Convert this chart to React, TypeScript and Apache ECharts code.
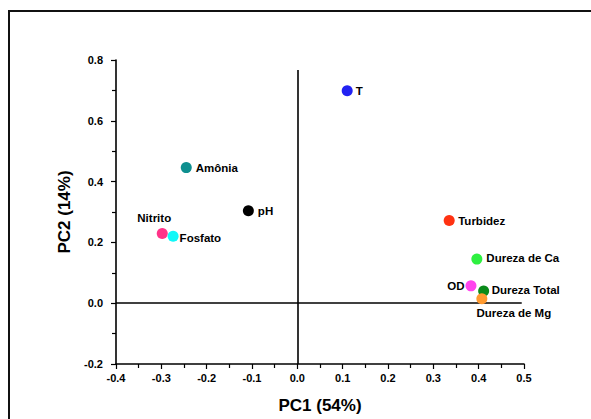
import React, { useEffect, useRef } from "react";
import * as echarts from "echarts";

const variables = ["T", "Amônia", "pH", "Nitrito", "Fosfato", "Turbidez", "Dureza de Ca", "OD", "Dureza Total", "Dureza de Mg"];
const pc1 = [0.11, -0.245, -0.108, -0.298, -0.274, 0.335, 0.396, 0.383, 0.411, 0.407];
const pc2 = [0.699, 0.446, 0.304, 0.229, 0.22, 0.272, 0.145, 0.057, 0.04, 0.015];
const xTicks = [-0.4, 0.5];
const yTicks = [-0.2, 0.8];
const xAxisName = "PC1 (54%)";
const yAxisName = "PC2 (14%)";

const palette: Record<string, string> = {
  T: "#2222F2",
  "Amônia": "#0E8F8F",
  pH: "#000000",
  Nitrito: "#FF3388",
  Fosfato: "#10F8F8",
  Turbidez: "#FF3212",
  "Dureza de Ca": "#2EF040",
  OD: "#FF44EE",
  "Dureza Total": "#0A8A1A",
  "Dureza de Mg": "#FF9A30",
};

const labelStyle: Record<string, any> = {
  T: { position: "right", distance: 3 },
  "Amônia": { position: "right", distance: 4 },
  pH: { position: "right", distance: 4 },
  Nitrito: { position: "top", distance: 4, offset: [-8, 0] },
  Fosfato: { position: "right", distance: 1, offset: [0, 2] },
  Turbidez: { position: "right", distance: 3.5 },
  "Dureza de Ca": { position: "right", distance: 4, offset: [0, -1.5] },
  OD: { position: "left", distance: 1 },
  "Dureza Total": { position: "right", distance: 2.5, offset: [0, -1] },
  "Dureza de Mg": { position: "bottom", distance: 2.5, offset: [32, 0] },
};

const FONT = "'Liberation Sans', Arial, sans-serif";

export default function App() {
  const ref = useRef<HTMLDivElement>(null);
  useEffect(() => {
    if (!ref.current) return;
    const chart = echarts.init(ref.current, undefined, { renderer: "svg" });
    const data = variables.map((name, i) => ({
      name,
      value: [pc1[i], pc2[i]],
      itemStyle: { color: palette[name], opacity: 1 },
      label: {
        show: true,
        formatter: "{b}",
        color: "#000",
        fontFamily: FONT,
        fontWeight: "bold",
        fontSize: 11.5,
        ...labelStyle[name],
      },
    }));
    chart.setOption({
      animation: false,
      backgroundColor: "#fff",
      grid: { left: 116, top: 60, right: 67, bottom: 54 },
      graphic: [
        {
          type: "rect",
          shape: { x: 9, y: 11, width: 700, height: 500 },
          style: { fill: "none", stroke: "#111", lineWidth: 2 },
          silent: true,
          z: 0,
        },
      ],
      xAxis: {
        type: "value",
        min: xTicks[0],
        max: xTicks[1],
        interval: 0.1,
        name: xAxisName,
        nameLocation: "middle",
        nameGap: 33,
        nameTextStyle: { fontFamily: FONT, fontWeight: "bold", fontSize: 17, color: "#000" },
        axisLine: { onZero: false, lineStyle: { color: "#000", width: 1.6 } },
        axisTick: { show: true, length: 5, inside: false, lineStyle: { color: "#000", width: 1.2 } },
        minorTick: { show: true, splitNumber: 2, length: 4, lineStyle: { color: "#000", width: 1.2 } },
        splitLine: { show: false },
        axisLabel: {
          margin: 8,
          fontFamily: FONT,
          fontWeight: "bold",
          fontSize: 11,
          color: "#000",
          formatter: (v: number) => v.toFixed(1),
        },
      },
      yAxis: {
        type: "value",
        min: yTicks[0],
        max: yTicks[1],
        interval: 0.2,
        name: yAxisName,
        nameLocation: "middle",
        nameGap: 38,
        nameTextStyle: { fontFamily: FONT, fontWeight: "bold", fontSize: 17, color: "#000" },
        axisLine: { onZero: false, lineStyle: { color: "#000", width: 1.6 } },
        axisTick: { show: true, length: 5, inside: false, lineStyle: { color: "#000", width: 1.2 } },
        minorTick: { show: true, splitNumber: 2, length: 4, lineStyle: { color: "#000", width: 1.2 } },
        splitLine: { show: false },
        axisLabel: {
          margin: 13,
          fontFamily: FONT,
          fontWeight: "bold",
          fontSize: 11,
          color: "#000",
          formatter: (v: number) => v.toFixed(1),
        },
      },
      series: [
        {
          type: "scatter",
          symbol: "circle",
          symbolSize: 11,
          data,
          z: 3,
          markLine: {
            silent: true,
            symbol: "none",
            label: { show: false },
            lineStyle: { color: "#000", width: 1.6, type: "solid" },
            emphasis: { disabled: true },
            data: [
              [{ coord: [0, -0.2] }, { coord: [0, 0.767] }],
              [{ coord: [-0.4, 0] }, { coord: [0.495, 0] }],
            ],
            z: 1,
          },
        },
      ],
    });
    return () => chart.dispose();
  }, []);
  return (
    <div
      ref={ref}
      style={{ position: "absolute", left: 0, top: 0, width: 591, height: 419 }}
    />
  );
}
